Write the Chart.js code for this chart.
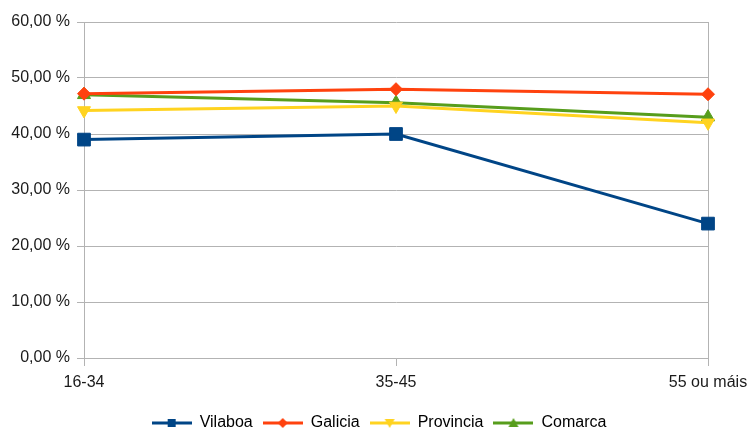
<!DOCTYPE html>
<html>
<head>
<meta charset="utf-8">
<script src="https://cdn.jsdelivr.net/npm/chart.js@4"></script>
<style>
	html, body { margin: 0; padding: 0; background: #fff; }
	#wrap { width: 749px; height: 428px; }
</style>
</head>
<body>
<div id="wrap"><canvas id="chart" width="749" height="428"></canvas></div>
<script>
var categories = ["16-34", "35-45", "55 ou máis"];
var seriesNames = ["Vilaboa", "Galicia", "Provincia", "Comarca"];
var vilaboa = [39, 40, 24];
var galicia = [47.2, 48, 47.1];
var provincia = [44.2, 45, 42];
var comarca = [47, 45.6, 43];
var yTicks = [0, 10, 20, 30, 40, 50, 60];

var colors = ["#004586", "#ff420e", "#ffd320", "#579d1c"];
var styles = ["rect", "rectRot", "triangle", "triangle"];
var rotations = [0, 0, 180, 0];
var radii = [9, 6.5, 7.5, 7.5];

// small line + marker swatch for the legend
var legendSwatch = function(i)
{
	var c = document.createElement("canvas");
	c.width = 40; c.height = 14;
	var g = c.getContext("2d");
	g.strokeStyle = colors[i];
	g.fillStyle = colors[i];
	g.lineWidth = 3;
	g.beginPath(); g.moveTo(0, 7); g.lineTo(40, 7); g.stroke();
	g.beginPath();
	if (i == 0) g.rect(16, 3, 8, 8);
	else if (i == 1) { g.moveTo(20, 2); g.lineTo(25, 7); g.lineTo(20, 12); g.lineTo(15, 7); }
	else if (i == 2) { g.moveTo(15, 3); g.lineTo(25, 3); g.lineTo(20, 12); }
	else { g.moveTo(15, 11); g.lineTo(25, 11); g.lineTo(20, 2); }
	g.closePath(); g.fill();
	return c;
};

var values = [vilaboa, galicia, provincia, comarca];
var datasets = seriesNames.map(function(name, i)
{
	return {
		label: name,
		data: values[i],
		borderColor: colors[i],
		backgroundColor: colors[i],
		borderWidth: 3,
		pointStyle: styles[i],
		rotation: rotations[i],
		pointRadius: radii[i],
		pointHoverRadius: radii[i],
		pointBorderWidth: 1,
		tension: 0
	};
});

Chart.defaults.font.family = "'Liberation Sans', Arial, sans-serif";
Chart.defaults.font.size = 16;
Chart.defaults.color = "#1a1a1a";

// the legend sits a bit right of the canvas centre
var shiftLegend = {
	id: "shiftLegend",
	afterLayout: function(chart)
	{
		if (chart.legend) chart.legend.left += 50;
	}
};

new Chart(document.getElementById("chart").getContext("2d"), {
	type: "line",
	data: { labels: categories, datasets: datasets },
	plugins: [shiftLegend],
	options: {
		responsive: false,
		animation: false,
		layout: { padding: { left: 0, right: 41, top: 22, bottom: -13 } },
		plugins: {
			tooltip: { enabled: false },
			legend: {
				position: "bottom",
				labels: {
					usePointStyle: true,
					pointStyleWidth: 40,
					padding: 10,
					generateLabels: function(chart)
					{
						return chart.data.datasets.map(function(ds, i)
						{
							return { text: ds.label, pointStyle: legendSwatch(i), fillStyle: colors[i], strokeStyle: colors[i], lineWidth: 0, datasetIndex: i, hidden: false };
						});
					}
				}
			}
		},
		scales: {
			x: {
				offset: false,
				grid: {
					color: function(ctx) { return ctx.index === 2 ? "#b3b3b3" : "rgba(0,0,0,0)"; },
					tickColor: "#b3b3b3",
					tickLength: 8,
					lineWidth: 1
				},
				border: { color: "#b3b3b3" },
				ticks: { padding: 7, maxRotation: 0 },
				afterFit: function(scale)
				{
					scale.height = 47;
					scale.paddingLeft = 0;
					scale.paddingRight = 0;
				}
			},
			y: {
				min: 0,
				max: 60,
				afterBuildTicks: function(scale) { scale.ticks = yTicks.map(function(v) { return { value: v }; }); },
				grid: { color: "#b3b3b3", tickColor: "#b3b3b3", tickLength: 7 },
				border: { color: "#b3b3b3" },
				ticks: {
					padding: 7,
					callback: function(v) { return v.toFixed(2).replace(".", ",") + " %"; }
				},
				afterFit: function(scale) { scale.width = 84; }
			}
		}
	}
});
</script>
</body>
</html>
